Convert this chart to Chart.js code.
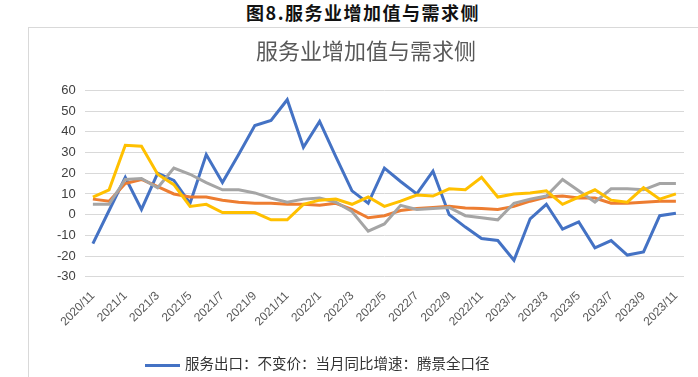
<!DOCTYPE html>
<html>
<head>
<meta charset="utf-8">
<script src="https://cdn.jsdelivr.net/npm/chart.js@4/dist/chart.umd.min.js"></script>
<style>
  body { margin: 0; background: #fff; width: 698px; height: 377px; overflow: hidden; position: relative; font-family: "Noto Sans CJK SC", sans-serif; }
  #figTitle { position: absolute; left: 0; top: 0; width: 726px; text-align: center; font-size: 18px; font-weight: bold; color: #111; line-height: 25px; letter-spacing: 1.5px; }
  #box { position: absolute; left: 28px; top: 27px; width: 680px; height: 360px; border: 1px solid #d9d9d9; }
  #legend { position: absolute; left: 145px; top: 352px; font-size: 14.5px; color: #333; white-space: nowrap; }
  #legend span.line { display: inline-block; width: 35px; height: 3px; background: #4472C4; vertical-align: middle; margin-right: 5px; }
</style>
</head>
<body>
<div id="figTitle">图8.服务业增加值与需求侧</div>
<div id="box"><canvas id="chart" width="680" height="360"></canvas></div>
<div id="legend"><span class="line"></span>服务出口：不变价：当月同比增速：腾景全口径</div>
<script>
const months = [
  "2020/11", "2020/12", "2021/1", "2021/2", "2021/3", "2021/4", "2021/5", "2021/6", "2021/7", "2021/8",
  "2021/9", "2021/10", "2021/11", "2021/12", "2022/1", "2022/2", "2022/3", "2022/4", "2022/5", "2022/6",
  "2022/7", "2022/8", "2022/9", "2022/10", "2022/11", "2022/12", "2023/1", "2023/2", "2023/3", "2023/4",
  "2023/5", "2023/6", "2023/7", "2023/8", "2023/9", "2023/10", "2023/11"
];

// 服务出口（蓝）
const exportsYoY = [-14, 2, 18, 2.5, 20, 16.5, 5.5, 29, 15.5, 29, 43, 45.5, 55.5, 32.5, 45, 28, 11.5, 5.5, 22.5, 16,
  10, 21, 0, -6, -11.5, -12.5, -22, -2, 5, -7, -3.5, -16, -12.5, -19.5, -18, -0.5, 0.7];
// 服务业增加值（橙）
const valueAddedYoY = [7.5, 6.5, 15, 17, 13.5, 10, 8.5, 8.5, 7, 6, 5.5, 5.5, 5, 5, 4.5, 5.5, 2.5, -1.5, -0.5, 2,
  3, 3.5, 4, 3.2, 3, 2.5, 4, 6.5, 8.5, 9, 8, 8, 5.5, 5.5, 6, 6.5, 6.5];
// 社会消费品零售（灰）
const retailYoY = [5, 5, 17, 17.5, 13, 22.5, 19.5, 15.5, 12, 12, 10.5, 8, 6, 7.5, 8, 6, 1.5, -8, -4.5, 4.5,
  2.5, 3, 3.5, -0.5, -1.5, -2.5, 5.5, 7.5, 9, 17, 11.5, 6, 12.5, 12.5, 12, 15, 15];
// 服务进口（黄）
const importsYoY = [8.5, 12, 33.5, 33, 19.5, 14.5, 4, 5, 1, 1, 1, -2.5, -2.5, 5, 7, 7.5, 5, 8.5, 4, 6.5,
  9.5, 9, 12.5, 12, 18, 8.5, 10, 10.5, 11.5, 5, 8.5, 12, 7, 6, 13, 7.5, 10];

const yTicks = [60, 50, 40, 30, 20, 10, 0, -10, -20, -30];

const ctx = document.getElementById("chart").getContext("2d");

new Chart(ctx, {
  type: "line",
  data: {
    labels: months,
    datasets: [
      { label: "服务出口：不变价：当月同比增速：腾景全口径", data: exportsYoY, borderColor: "#4472C4", order: 3 },
      { label: "服务业增加值：当月同比", data: valueAddedYoY, borderColor: "#ED7D31", order: 2 },
      { label: "社会消费品零售总额：当月同比", data: retailYoY, borderColor: "#A5A5A5", order: 1 },
      { label: "服务进口：不变价：当月同比增速", data: importsYoY, borderColor: "#FFC000", order: 0 }
    ].map(ds => Object.assign(ds, { borderWidth: 3, pointRadius: 0, tension: 0, fill: false }))
  },
  options: {
    responsive: false,
    animation: false,
    layout: { padding: { left: 19, right: 25, bottom: 55 } },
    plugins: {
      legend: { display: false },
      tooltip: { enabled: false },
      title: {
        display: true,
        text: "服务业增加值与需求侧",
        color: "#595959",
        font: { family: "Noto Sans CJK SC", size: 22, weight: "normal" },
        padding: { top: 9, bottom: 27 }
      }
    },
    scales: {
      x: {
        offset: true,
        grid: { display: false },
        border: { display: false },
        ticks: {
          autoSkip: false,
          maxRotation: 45,
          minRotation: 45,
          padding: 4,
          color: "#595959",
          font: { family: "Liberation Sans", size: 12 },
          callback: (v, i) => (i % 2 === 0 ? months[i] : "")
        }
      },
      y: {
        min: -30,
        max: 60,
        afterBuildTicks: axis => { axis.ticks = yTicks.map(v => ({ value: v })); },
        grid: { color: "#d9d9d9", lineWidth: 1, drawTicks: false },
        border: { display: false },
        ticks: {
          padding: 9,
          color: "#404040",
          font: { family: "Liberation Sans", size: 13 }
        }
      }
    }
  }
});
</script>
</body>
</html>
